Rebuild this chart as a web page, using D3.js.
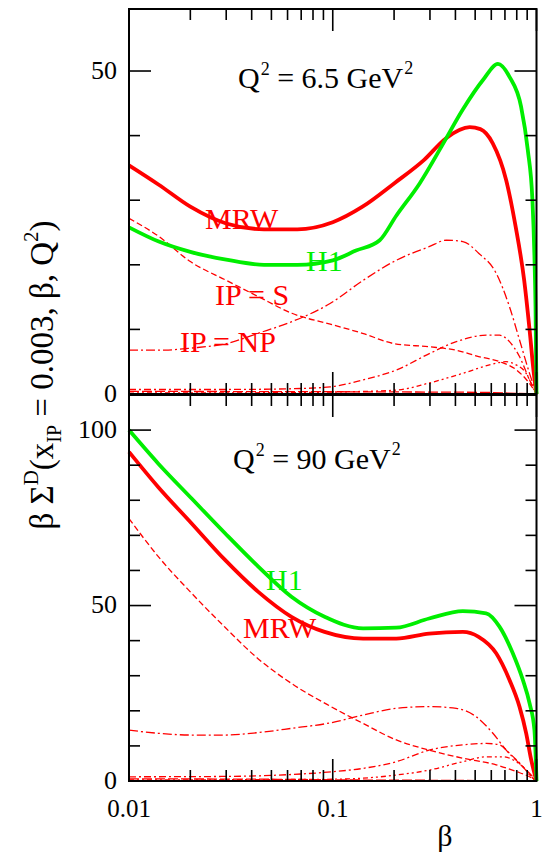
<!DOCTYPE html>
<html><head><meta charset="utf-8">
<script src="https://cdn.jsdelivr.net/npm/d3@7"></script>
<style>body{margin:0;background:#fff}svg{display:block}</style>
</head><body>
<script>
// ---------- data ----------
const xTickLabelValues = [0.01, 0.1, 1];
const xTickLabels = ["0.01", "0.1", "1"];
const topYTicks = [0, 10, 20, 30, 40, 50];
const topYLabelValues = [0, 50];
const botYTicks = [0, 10, 20, 30, 40, 50, 60, 70, 80, 90, 100];
const botYLabelValues = [0, 50, 100];

// Q^2 = 6.5 GeV^2 panel
const topH1Beta = [0.01,0.014,0.02,0.03,0.046,0.067,0.1,0.13,0.17,0.205,0.267,0.346,0.434,0.546,0.647,0.737,0.84,0.906,0.955,0.977,0.989,1];
const topH1 = [25.8,23.6,22.0,20.8,20.0,20.0,20.7,22.2,23.8,27.6,32.6,38.6,44.0,48.6,51.1,49.1,44.5,37.8,30.0,21.3,13.5,0];
const topMRWBeta = [0.01,0.014,0.02,0.03,0.046,0.067,0.1,0.14,0.2,0.28,0.36,0.47,0.53,0.61,0.71,0.79,0.87,0.925,0.97,1];
const topMRW = [35.4,32.4,29.0,26.4,25.5,25.5,26.6,29.0,32.6,36.2,39.6,41.3,41.0,38.8,33.1,25.9,17.6,9.9,3.2,0];
const topSBeta = [0.01,0.014,0.02,0.03,0.043,0.063,0.1,0.14,0.2,0.3,0.4,0.52,0.66,0.8,0.92,1];
const topS = [27.2,24.4,20.5,17.6,15.1,12.5,10.7,9.4,7.8,7.3,6.8,5.8,5.0,3.7,1.7,0];
const topNPBeta = [0.01,0.015,0.02,0.03,0.043,0.063,0.097,0.141,0.205,0.297,0.361,0.435,0.52,0.634,0.737,0.825,0.924,1];
const topNP = [6.8,6.8,7.1,7.8,9.4,11.2,14.0,17.6,20.7,22.8,23.8,23.6,21.8,18.7,13.5,8.4,3.2,0];
const topC1Beta = [0.01,0.03,0.06,0.097,0.141,0.205,0.3,0.404,0.567,0.659,0.737,0.825,0.924,1];
const topC1 = [0.7,0.7,0.8,1.1,2.2,3.7,6.3,8.1,9.1,9.1,8.1,5.8,2.2,0];
const topC2Beta = [0.01,0.05,0.1,0.205,0.297,0.435,0.588,0.71,0.795,0.89,0.959,1];
const topC2 = [0.15,0.2,0.3,0.6,1.7,3.2,4.5,5.0,4.5,3.2,1.1,0];
const topC3Beta = [0.01,0.1,0.3,0.55,0.8,1];
const topC3 = [0.4,0.35,0.3,0.25,0.1,0];

// Q^2 = 90 GeV^2 panel
const botH1Beta = [0.01,0.0139,0.0203,0.0296,0.0431,0.0627,0.0912,0.141,0.205,0.297,0.435,0.566,0.658,0.765,0.857,0.925,0.977,1];
const botH1 = [100,90.5,80.5,70.6,61.1,52.5,46.8,43.5,43.7,46.3,48.4,47.8,44.0,36.4,28.8,22.1,14.5,0];
const botMRWBeta = [0.01,0.0139,0.0203,0.0296,0.0431,0.0627,0.0912,0.141,0.205,0.297,0.435,0.52,0.634,0.737,0.825,0.89,0.942,1];
const botMRW = [93.8,83.8,73.4,63.0,53.9,46.8,42.5,40.6,40.6,42.0,42.5,41.1,36.4,28.8,21.2,13.6,6.0,0];
const botSBeta = [0.01,0.0139,0.0203,0.0296,0.0431,0.0627,0.098,0.141,0.205,0.297,0.435,0.634,0.795,0.924,1];
const botS = [74.8,64,53.5,43.8,34.8,27.8,21.2,16.4,11.7,8.8,6.5,4.6,2.7,1.2,0];
const botNPBeta = [0.01,0.0139,0.0203,0.0296,0.0431,0.0627,0.098,0.141,0.205,0.297,0.404,0.506,0.611,0.71,0.825,0.924,1];
const botNP = [14.5,13.6,13.1,13.1,13.8,15.0,16.6,18.8,20.7,21.2,20.7,18.3,13.6,8.8,5.0,2.2,0];
const botC1Beta = [0.01,0.03,0.06,0.098,0.141,0.205,0.297,0.435,0.567,0.659,0.737,0.857,0.942,1];
const botC1 = [1.2,1.3,1.8,2.6,3.6,5.5,8.8,10.3,10.7,10.3,7.9,4.1,1.2,0];
const botC2Beta = [0.01,0.05,0.1,0.141,0.205,0.297,0.435,0.567,0.684,0.795,0.89,0.959,1];
const botC2 = [0.3,0.4,0.5,0.8,1.7,3.1,5.5,6.9,6.9,5.5,3.1,0.8,0];
const botC3Beta = [0.01,0.05,0.12,0.3,0.6,1];
const botC3 = [0.6,0.5,0.3,0.2,0.1,0];

// ---------- drawing ----------
const RED = "#ff0000", GREEN = "#00ee00";
const FONT = "'Liberation Serif','Times New Roman',Times,serif";
const W = 545, H = 855;
const xL = 129, xR = 536.5;
const svg = d3.select("body").append("svg").attr("width", W).attr("height", H)
  .style("font-family", FONT);

const x = d3.scaleLog().domain([0.01, 1]).range([xL, xR]);
const yTop = d3.scaleLinear().domain([0, 59.6]).range([394, 9]);
const yBot = d3.scaleLinear().domain([0, 110]).range([781, 395]);

const zip = (a, b) => a.map((v, i) => [v, b[i]]);

function drawPanel(y, yTicks, yLabelVals, series) {
  const g = svg.append("g");
  const [y0, y1] = y.range();
  series.forEach(s => {
    const line = d3.line().x(d => x(d[0])).y(d => y(d[1])).curve(d3.curveMonotoneX);
    g.append("path").attr("d", line(zip(s.b, s.v)))
      .attr("fill", "none").attr("stroke", s.c).attr("stroke-width", s.w)
      .attr("stroke-dasharray", s.dash || null).attr("stroke-linejoin", "round");
  });
  g.append("rect").attr("x", xL).attr("y", y1).attr("width", xR - xL).attr("height", y0 - y1)
    .attr("fill", "none").attr("stroke", "#000").attr("stroke-width", 2);
  x.ticks().forEach(t => {
    const major = Math.abs(Math.log10(t) - Math.round(Math.log10(t))) < 1e-9;
    const len = major ? 22 : 11;
    g.append("line").attr("x1", x(t)).attr("x2", x(t)).attr("y1", y1).attr("y2", y1 + len)
      .attr("stroke", "#000").attr("stroke-width", 1.6);
    g.append("line").attr("x1", x(t)).attr("x2", x(t)).attr("y1", y0).attr("y2", y0 - len)
      .attr("stroke", "#000").attr("stroke-width", 1.6);
  });
  yTicks.forEach(t => {
    const len = t % 50 === 0 ? 22 : 11;
    g.append("line").attr("x1", xL).attr("x2", xL + len).attr("y1", y(t)).attr("y2", y(t))
      .attr("stroke", "#000").attr("stroke-width", 1.6);
    g.append("line").attr("x1", xR).attr("x2", xR - len).attr("y1", y(t)).attr("y2", y(t))
      .attr("stroke", "#000").attr("stroke-width", 1.6);
  });
  yLabelVals.forEach(t => {
    g.append("text").attr("x", 117).attr("y", y(t)).attr("dy", "0.3em")
      .attr("text-anchor", "end").attr("font-size", 26).text(String(t));
  });
}

const dashS = "6,3", dashNP = "9,3,2,3", dashC1 = "7,3,2,3", dashC2 = "5,3,2,3,2,3", dashC3 = "10,3";

drawPanel(yTop, topYTicks, topYLabelValues, [
  {b: topC3Beta, v: topC3, c: RED, w: 1.3, dash: dashC3},
  {b: topC2Beta, v: topC2, c: RED, w: 1.3, dash: dashC2},
  {b: topC1Beta, v: topC1, c: RED, w: 1.3, dash: dashC1},
  {b: topSBeta, v: topS, c: RED, w: 1.3, dash: dashS},
  {b: topNPBeta, v: topNP, c: RED, w: 1.3, dash: dashNP},
  {b: topMRWBeta, v: topMRW, c: RED, w: 3.8},
  {b: topH1Beta, v: topH1, c: GREEN, w: 3.8}
]);
drawPanel(yBot, botYTicks, botYLabelValues, [
  {b: botC3Beta, v: botC3, c: RED, w: 1.3, dash: dashC3},
  {b: botC2Beta, v: botC2, c: RED, w: 1.3, dash: dashC2},
  {b: botC1Beta, v: botC1, c: RED, w: 1.3, dash: dashC1},
  {b: botSBeta, v: botS, c: RED, w: 1.3, dash: dashS},
  {b: botNPBeta, v: botNP, c: RED, w: 1.3, dash: dashNP},
  {b: botMRWBeta, v: botMRW, c: RED, w: 3.8},
  {b: botH1Beta, v: botH1, c: GREEN, w: 3.8}
]);

// x tick labels
xTickLabelValues.forEach((t, i) => {
  svg.append("text").attr("x", x(t)).attr("y", 817).attr("text-anchor", "middle")
    .attr("font-size", 25).text(xTickLabels[i]);
});
svg.append("text").attr("x", 445).attr("y", 846).attr("text-anchor", "middle")
  .attr("font-size", 30).text("β");

// y axis title
const yt = svg.append("text").attr("transform", "translate(53,375) rotate(-90)")
  .attr("text-anchor", "middle").attr("font-size", 33);
yt.append("tspan").text("β Σ");
yt.append("tspan").attr("dy", -15).attr("font-size", 21).text("D");
yt.append("tspan").attr("dy", 15).text("(x");
yt.append("tspan").attr("dy", 8).attr("font-size", 20).text("IP");
yt.append("tspan").attr("dy", -8).text(" = 0.003, β, Q");
yt.append("tspan").attr("dy", -15).attr("font-size", 21).text("2");
yt.append("tspan").attr("dy", 15).text(")");

// Q^2 labels
function qLabel(px, py, val) {
  const t = svg.append("text").attr("x", px).attr("y", py).attr("font-size", 30);
  t.append("tspan").text("Q");
  t.append("tspan").attr("dx", 1).attr("dy", -13).attr("font-size", 18).text("2");
  t.append("tspan").attr("dy", 13).text(" = " + val + " GeV");
  t.append("tspan").attr("dx", 1).attr("dy", -14).attr("font-size", 18).text("2");
}
qLabel(238, 88, "6.5");
qLabel(233, 469, "90");

// curve annotations
function ann(px, py, txt, col) {
  svg.append("text").attr("x", px).attr("y", py).attr("font-size", 30).attr("fill", col).text(txt);
}
ann(205, 229, "MRW", RED);
ann(306, 271, "H1", GREEN);
ann(215, 305, "IP = S", RED);
ann(180, 352, "IP = NP", RED);
ann(266, 590, "H1", GREEN);
ann(243, 638, "MRW", RED);
</script>
</body></html>
